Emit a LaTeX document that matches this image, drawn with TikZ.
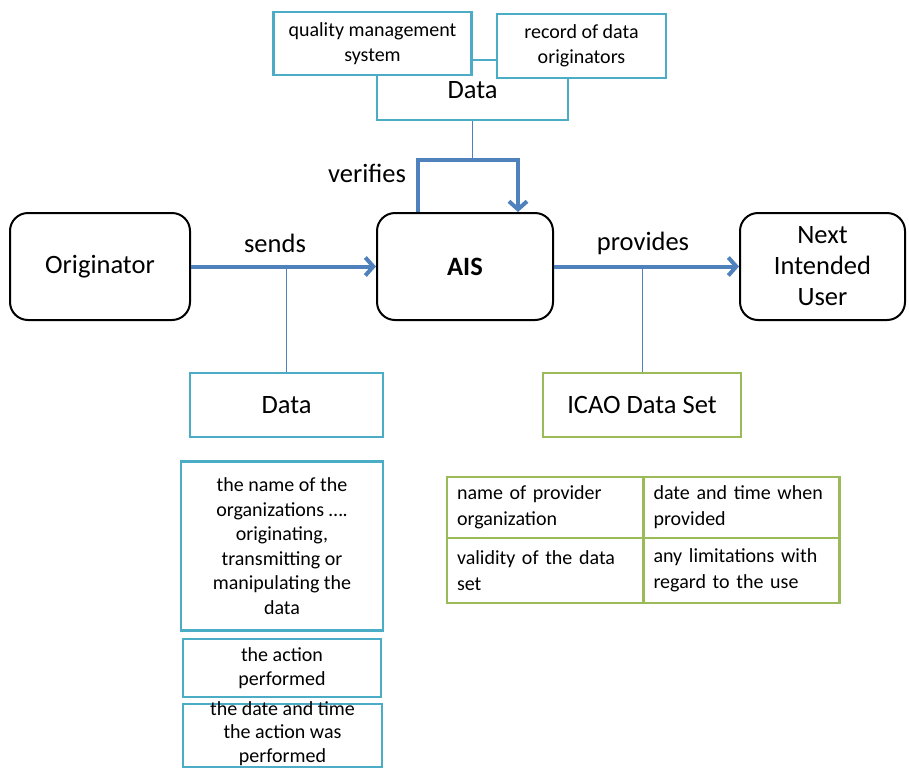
\documentclass[tikz,border=0pt]{standalone}
\usepackage{fontspec}
\setmainfont{Carlito}
\usetikzlibrary{positioning,calc,arrows.meta}
\definecolor{flowblue}{HTML}{4F81BD}
\definecolor{dataaqua}{HTML}{4BACC6}
\definecolor{setgreen}{HTML}{9BBB59}

\begin{document}
\begin{tikzpicture}[x=1pt,y=-1pt,
	actor/.style={draw=black,line width=2pt,rounded corners=18pt,inner sep=0pt,align=center,font=\fontsize{26.5}{31}\selectfont},
	databox/.style={draw=dataaqua,line width=2.5pt,fill=white,inner sep=0pt,align=center,font=\fontsize{20}{24.5}\selectfont},
	setbox/.style={draw=setgreen,line width=2.5pt,inner sep=0pt,align=center,font=\fontsize{26.5}{31}\selectfont},
	cell/.style={draw=setgreen,line width=2.5pt,inner xsep=10pt,inner ysep=0pt,text width=176pt,align=left,font=\fontsize{20}{26}\selectfont},
	flow/.style={flowblue,line width=4pt,-{Straight Barb[length=8pt,width=18pt]}},
	link/.style={flowblue,line width=1pt},
	lbl/.style={font=\fontsize{26.5}{31}\selectfont}]
	\useasboundingbox (0,0) rectangle (909,769);
	% main chain
	\node[actor,minimum width=180pt,minimum height=107pt] (orig) at (100,266.5) {Originator};
	\node[actor,minimum width=176pt,minimum height=107pt] (ais) at (465,266.5) {\bfseries AIS};
	\node[actor,minimum width=165pt,minimum height=107pt] (niu) at (822.5,266.5) {Next\\Intended\\User};
	\draw[flow] (orig) -- (ais);
	\draw[flow] (ais) -- (niu);
	\node[lbl] (sends) at (275,243) {sends};
	\node[lbl] (provides) at (643,243) {provides};
	\node[lbl] (verifies) at (367,173) {verifies};
	% top data, behind the two small boxes
	\node[databox,minimum width=191pt,minimum height=60pt,font=\fontsize{26.5}{31}\selectfont] (topdata) at (472.5,90) {Data};
	\node[databox,minimum width=198pt,minimum height=63pt] (qms) at (372.5,43.5) {quality management\\system};
	\node[databox,minimum width=169pt,minimum height=64pt] (record) at (581.5,46) {record of data\\originators};
	\coordinate (vtop) at ($(ais.north)+(7.5,-52)$);
	\draw[flow] ($(ais.north)+(-47,0)$) |- (vtop) -| ($(ais.north)+(53,0)$);
	\draw[link] (topdata.south) -- (topdata.south |- vtop);
	% what is sent
	\node[databox,minimum width=193pt,minimum height=64pt,font=\fontsize{26.5}{31}\selectfont] (sent) at (286.5,405) {Data};
	\draw[link] (sent.north) -- (sent.north |- orig.east);
	\node[databox,minimum width=202pt,minimum height=169pt] (orgname) at (282,546) {the name of the\\organizations ….\\originating,\\transmitting or\\manipulating the\\data};
	\node[databox,minimum width=198pt,minimum height=58pt] (action) at (282,668) {the action\\performed};
	\node[databox,minimum width=199pt,minimum height=63pt] (when) at (282.5,735.5) {};
	\node[databox,draw=none,fill=none,font=\fontsize{20}{23.5}\selectfont] (whentext) at ($(when)+(0,-2)$) {the date and time\\the action was\\performed};
	% what is provided
	\node[setbox,minimum width=198pt,minimum height=64pt] (icao) at (642,405) {ICAO Data Set};
	\draw[link] (icao.north) -- (icao.north |- ais.east);
	\node[cell,minimum height=61pt] (provider) at (545,507.5) {name of provider\\organization};
	\node[cell,minimum height=61pt] (provided) at (741.5,507.5) {date and time when\\provided};
	\node[cell,minimum height=65pt] (validity) at (545,570.5) {validity of the data\\set};
	\node[cell,minimum height=65pt] (limits) at (741.5,570.5) {any limitations with\\regard to the use};
\end{tikzpicture}
\end{document}
